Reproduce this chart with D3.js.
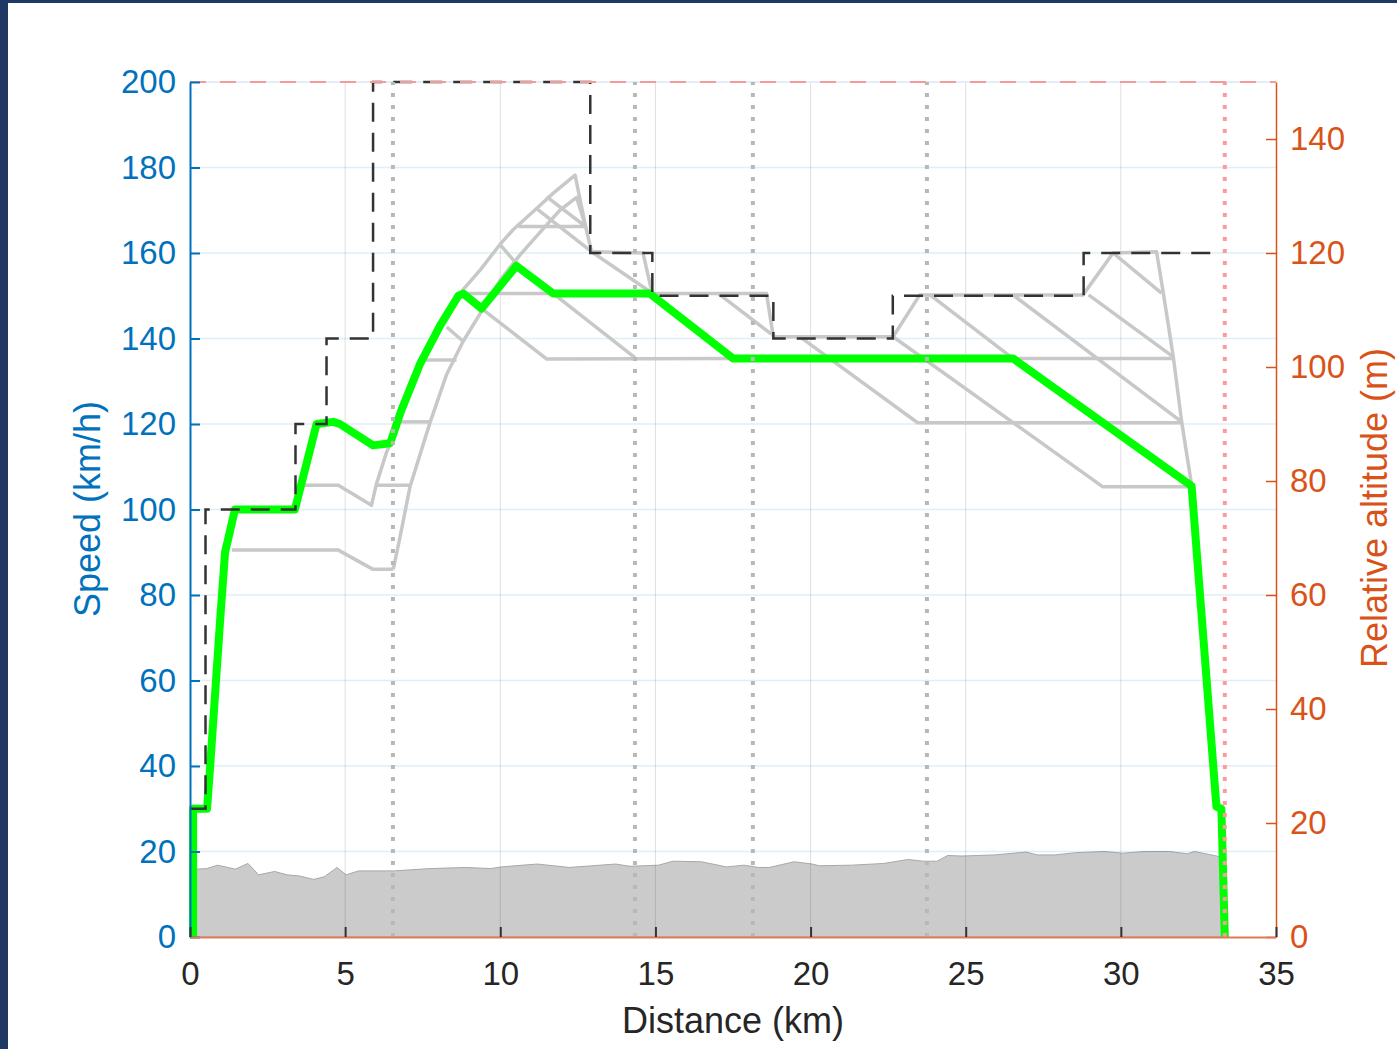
<!DOCTYPE html>
<html>
<head>
<meta charset="utf-8">
<script src="https://cdn.jsdelivr.net/npm/d3@7"></script>
<style>
  body { margin: 0; background: #1f3864; }
  svg { display: block; }
</style>
</head>
<body>
<div id="chart"></div>
<script>
const svgWidth = 1397;
const svgHeight = 1049;

const margin = { top: 82, right: 121, bottom: 112, left: 190 };

// tick values
const xTicks = [0, 5, 10, 15, 20, 25, 30, 35];
const speedTicks = [0, 20, 40, 60, 80, 100, 120, 140, 160, 180, 200];
const altTicks = [0, 20, 40, 60, 80, 100, 120, 140];

// speed limit steps (km, km/h)
const limitKm = [0, 0.5, 3.4, 4.4, 5.9, 12.9, 14.9, 18.8, 22.65, 28.8, 33.1];
const limitSpeed = [30, 100, 120, 140, 200, 160, 150, 140, 150, 160, 160];

// driven speed profile
const speedKm = [0.1, 0.1, 0.55, 0.66, 0.97, 1.13, 1.45, 3.38, 4.08, 4.62, 4.83, 5.9, 6.45, 6.8, 7.41, 8.06, 8.65, 8.81, 9.4, 10.52, 11.71, 14.82, 17.51, 26.53, 32.28, 33.08, 33.24, 33.35];
const speedVal = [0, 30, 30, 41, 74, 90, 100, 100, 120, 120.5, 120, 115, 115.5, 123, 134, 143, 150, 150.5, 147, 157, 150.5, 150.5, 135.3, 135.3, 105.5, 30.5, 30, 0];

// station markers and end of line
const stationKm = [6.54, 14.34, 18.14, 23.75];
const endKm = 33.35;
const topSpeed = 200;

// relative altitude profile (km, m)
const altKm = [0, 0.14, 0.54, 0.89, 1.46, 1.87, 2.21, 2.73, 3.13, 3.53, 3.99, 4.34, 4.74, 5.03, 5.43, 6.58, 7.73, 8.89, 9.69, 10.04, 11.19, 12.22, 13.72, 14.18, 15.1, 15.56, 16.48, 17.29, 17.86, 18.32, 18.67, 19.47, 20.05, 20.28, 21.31, 22.35, 23.15, 23.62, 24.08, 24.42, 24.88, 25.92, 26.95, 27.3, 27.87, 28.57, 29.49, 30.06, 30.75, 31.56, 32.14, 32.37, 32.83, 33.18, 33.3];
const altM = [12, 11.9, 12.0, 12.6, 11.9, 12.9, 10.9, 11.5, 10.9, 10.7, 10.1, 10.6, 12.2, 10.9, 11.6, 11.6, 12.0, 12.2, 12.0, 12.3, 12.8, 12.2, 12.8, 12.4, 12.6, 13.3, 13.2, 12.3, 12.6, 12.2, 12.2, 13.2, 12.8, 12.5, 12.6, 12.9, 13.6, 13.3, 13.3, 14.3, 14.2, 14.4, 14.9, 14.4, 14.4, 14.8, 15.0, 14.7, 15.0, 15.0, 14.6, 15.0, 14.5, 14.1, 14.0];

// candidate curves (km, km/h)
const candidateCurves = [
  [[1.35, 90.5], [4.78, 90.5], [5.9, 86], [6.55, 86]],
  [[6.55, 86], [6.77, 93.6], [7.09, 105.3], [7.73, 120.2], [8.27, 131.6], [8.8, 139.3], [9.45, 147], [10, 153.7], [10.63, 159.5], [11.3, 165], [11.92, 170], [12.46, 173], [12.75, 166.2]],
  [[3.6, 105.7], [4.78, 105.7], [5.85, 101], [6.01, 106], [6.34, 113.5], [6.5, 116]],
  [[8.75, 151], [9.35, 156], [9.99, 162], [10.42, 165.5], [11.17, 170.4], [11.71, 174], [12.41, 178.2], [12.75, 166.2], [12.94, 160.3]],
  [[10.58, 166.2], [12.75, 166.2]],
  [[11.17, 170.4], [12.94, 160.3], [14.82, 151]],
  [[11.49, 173.2], [12.75, 166.2]],
  [[9.99, 162], [10.52, 157.5]],
  [[8.75, 150.5], [11.71, 150.5]],
  [[9.4, 147], [11.5, 135.2], [17.51, 135.3]],
  [[8.27, 142.7], [8.81, 139.3]],
  [[7.45, 135], [8.59, 135]],
  [[6.75, 120.5], [7.75, 120.5]],
  [[6.0, 105.7], [7.09, 105.7]],
  [[11.71, 150.5], [14.34, 135.5]],
  [[12.94, 160.3], [14.6, 160], [14.88, 151]],
  [[14.82, 150.5], [18.58, 150.5], [18.8, 140.4]],
  [[17.03, 150.5], [18.74, 141]],
  [[18.8, 140.4], [22.66, 140.4], [23.52, 150.2], [28.78, 150.2], [29.75, 160], [31.15, 160.3], [31.37, 150.6], [31.69, 135.7], [31.96, 120.5], [32.28, 105.7]],
  [[19.66, 140.4], [23.45, 120.3], [31.96, 120.3]],
  [[22.66, 140.4], [29.42, 105.3], [32.28, 105.3]],
  [[23.85, 150.2], [26.53, 135.3]],
  [[26.52, 150.2], [31.96, 120.5]],
  [[28.96, 150.2], [31.69, 135.7]],
  [[29.75, 160], [31.31, 150.6]],
  [[17.51, 135.3], [31.69, 135.3]]
];

const width = svgWidth - margin.left - margin.right;
const height = svgHeight - margin.top - margin.bottom;

const svg = d3.select("#chart")
  .append("svg")
  .attr("width", svgWidth)
  .attr("height", svgHeight);

// white page with the dark frame showing on left and top
svg.append("rect")
  .attr("x", 8).attr("y", 3)
  .attr("width", svgWidth - 8).attr("height", svgHeight - 3)
  .attr("fill", "#ffffff");

const chartGroup = svg.append("g")
  .attr("transform", `translate(${margin.left}, ${margin.top})`);

const xScale = d3.scaleLinear().domain([0, 35]).range([0, width]);
const ySpeed = d3.scaleLinear().domain([0, 200]).range([height, 0]);
const yAlt = d3.scaleLinear().domain([0, 150]).range([height, 0]);

// altitude area
const altData = altKm.map((k, i) => [k, altM[i]]);
chartGroup.append("path")
  .datum(altData)
  .attr("d", d3.area().x(d => xScale(d[0])).y0(yAlt(0)).y1(d => yAlt(d[1])))
  .attr("fill", "#cbcbcb")
  .attr("stroke", "#a8a8a8")
  .attr("stroke-width", 1);

// grid
chartGroup.append("g").selectAll("line")
  .data(xTicks.slice(1, -1))
  .enter().append("line")
  .attr("x1", d => xScale(d)).attr("x2", d => xScale(d))
  .attr("y1", 0).attr("y2", height)
  .attr("stroke", "rgba(38,38,38,0.15)")
  .attr("stroke-width", 1);

chartGroup.append("g").selectAll("line")
  .data(speedTicks.slice(1, -1))
  .enter().append("line")
  .attr("x1", 0).attr("x2", width)
  .attr("y1", d => ySpeed(d)).attr("y2", d => ySpeed(d))
  .attr("stroke", "rgba(0,114,189,0.12)")
  .attr("stroke-width", 1.5);

// top border
chartGroup.append("line")
  .attr("x1", 0).attr("x2", width)
  .attr("y1", 0).attr("y2", 0)
  .attr("stroke", "#e2edf7")
  .attr("stroke-width", 2);

const speedLine = d3.line()
  .x(d => xScale(d[0]))
  .y(d => ySpeed(d[1]));

// candidate curves
chartGroup.append("g").selectAll("path")
  .data(candidateCurves)
  .enter().append("path")
  .attr("d", speedLine)
  .attr("fill", "none")
  .attr("stroke", "#c8c8c8")
  .attr("stroke-width", 3.5)
  .attr("stroke-linejoin", "round");

// driven speed
const speedData = speedKm.map((k, i) => [k, speedVal[i]]);
chartGroup.append("path")
  .datum(speedData)
  .attr("d", speedLine)
  .attr("fill", "none")
  .attr("stroke", "#00ff00")
  .attr("stroke-width", 8)
  .attr("stroke-linejoin", "round");

// speed limit
const limitData = limitKm.map((k, i) => [k, limitSpeed[i]]);
chartGroup.append("path")
  .datum(limitData)
  .attr("d", d3.line().curve(d3.curveStepAfter).x(d => xScale(d[0])).y(d => ySpeed(d[1])))
  .attr("fill", "none")
  .attr("stroke", "#333333")
  .attr("stroke-width", 2.5)
  .attr("stroke-dasharray", "19,11");

// station markers
chartGroup.append("g").selectAll("line")
  .data(stationKm)
  .enter().append("line")
  .attr("x1", d => xScale(d)).attr("x2", d => xScale(d))
  .attr("y1", ySpeed(0)).attr("y2", ySpeed(200))
  .attr("stroke", "#b8b8b8")
  .attr("stroke-width", 4)
  .attr("stroke-dasharray", "4,8");

chartGroup.append("line")
  .attr("x1", xScale(endKm)).attr("x2", xScale(endKm))
  .attr("y1", ySpeed(0)).attr("y2", ySpeed(200))
  .attr("stroke", "#ff9a9a")
  .attr("stroke-width", 4)
  .attr("stroke-dasharray", "4,8");

// top speed
chartGroup.append("line")
  .attr("x1", 0).attr("x2", width)
  .attr("y1", ySpeed(topSpeed)).attr("y2", ySpeed(topSpeed))
  .attr("stroke", "#f59a9a")
  .attr("stroke-width", 2)
  .attr("stroke-dasharray", "16,14");

// axes
const tickFont = "33px 'Liberation Sans', Arial, sans-serif";

const leftAxis = chartGroup.append("g")
  .call(d3.axisLeft(ySpeed).tickValues(speedTicks).tickSize(-10).tickSizeOuter(0).tickPadding(14));
leftAxis.selectAll("path").attr("stroke", "#0072BD").attr("stroke-width", 2);
leftAxis.selectAll("line").attr("stroke", "#0072BD").attr("stroke-width", 2);
leftAxis.selectAll("text").attr("fill", "#0072BD").style("font", tickFont);

const rightAxis = chartGroup.append("g")
  .attr("transform", `translate(${width}, 0)`)
  .call(d3.axisRight(yAlt).tickValues(altTicks).tickSize(-10).tickSizeOuter(0).tickPadding(14));
rightAxis.selectAll("path").attr("stroke", "#D95319").attr("stroke-width", 1.5);
rightAxis.selectAll("line").attr("stroke", "#D95319").attr("stroke-width", 1.5);
rightAxis.selectAll("text").attr("fill", "#D95319").style("font", tickFont);

const bottomAxis = chartGroup.append("g")
  .attr("transform", `translate(0, ${height})`)
  .call(d3.axisBottom(xScale).tickValues(xTicks).tickSize(-10).tickSizeOuter(0).tickPadding(25));
bottomAxis.selectAll("path").attr("stroke", "#e07a55").attr("stroke-width", 2);
bottomAxis.selectAll("line").attr("stroke", "#333333").attr("stroke-width", 2);
bottomAxis.selectAll("text").attr("fill", "#262626").style("font", tickFont);

// axis labels
const labelFont = "36px 'Liberation Sans', Arial, sans-serif";

svg.append("text")
  .attr("x", 733).attr("y", 1033)
  .attr("text-anchor", "middle")
  .attr("fill", "#262626")
  .style("font", labelFont)
  .text("Distance (km)");

svg.append("text")
  .attr("transform", "translate(100, 509) rotate(-90)")
  .attr("text-anchor", "middle")
  .attr("fill", "#0072BD")
  .style("font", labelFont)
  .text("Speed (km/h)");

svg.append("text")
  .attr("transform", "translate(1387, 508) rotate(-90)")
  .attr("text-anchor", "middle")
  .attr("fill", "#D95319")
  .style("font", labelFont)
  .text("Relative altitude (m)");
</script>
</body>
</html>
